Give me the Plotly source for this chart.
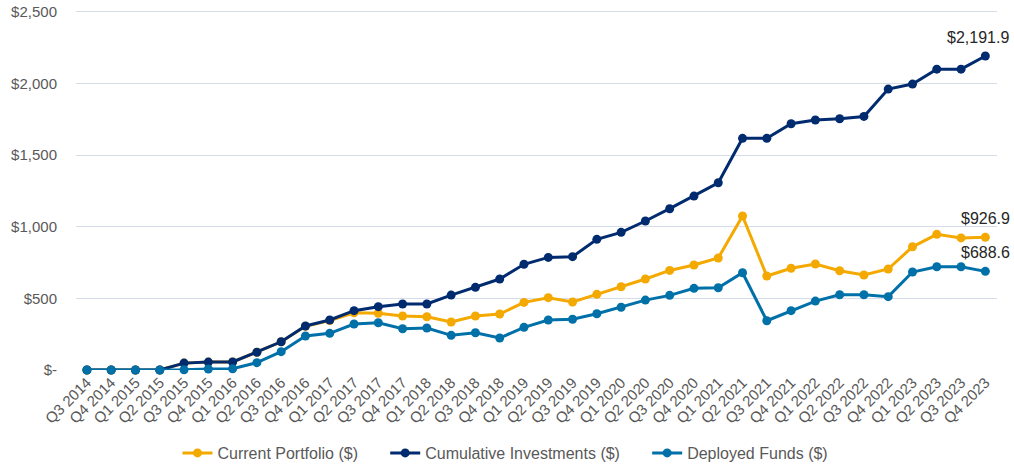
import plotly.graph_objects as go

quarters = ["Q3 2014", "Q4 2014", "Q1 2015", "Q2 2015", "Q3 2015", "Q4 2015", "Q1 2016", "Q2 2016",
            "Q3 2016", "Q4 2016", "Q1 2017", "Q2 2017", "Q3 2017", "Q4 2017", "Q1 2018", "Q2 2018",
            "Q3 2018", "Q4 2018", "Q1 2019", "Q2 2019", "Q3 2019", "Q4 2019", "Q1 2020", "Q2 2020",
            "Q3 2020", "Q4 2020", "Q1 2021", "Q2 2021", "Q3 2021", "Q4 2021", "Q1 2022", "Q2 2022",
            "Q3 2022", "Q4 2022", "Q1 2023", "Q2 2023", "Q3 2023", "Q4 2023"]

current_portfolio = [0, 0, 0, 0, 48, 55, 56, 124, 197, 305, 345, 400, 396, 377, 372, 335, 377, 391,
                     472, 505, 475, 528, 581, 635, 695, 733, 782, 1075, 656, 710, 740, 693, 663, 705,
                     860, 947, 922, 926.9]
cumulative_investments = [0, 0, 0, 0, 48, 55, 56, 124, 197, 307, 349, 414, 442, 461, 461, 523, 577, 635,
                          738, 786, 791, 912, 961, 1040, 1126, 1214, 1307, 1617, 1617, 1719, 1745, 1754,
                          1770, 1961, 1996, 2100, 2100, 2191.9]
deployed_funds = [0, 0, 0, 0, 2, 7, 9, 51, 128, 237, 256, 321, 330, 288, 293, 242, 260, 223,
                  298, 349, 354, 393, 438, 488, 521, 570, 574, 679, 344, 414, 481, 525, 525, 512,
                  684, 721, 721, 688.6]

series_names = ["Current Portfolio ($)", "Cumulative Investments ($)", "Deployed Funds ($)"]
series_colors = ["#F4A900", "#002B6F", "#0070A8"]

y_tick_vals = [0, 500, 1000, 1500, 2000, 2500]
y_tick_text = ["$-", "$500", "$1,000", "$1,500", "$2,000", "$2,500"]

FONT = "Arial, 'Liberation Sans', sans-serif"
NBSP_PAD = "\u00a0" * 5  # extra spacing between legend entries

fig = go.Figure()
all_series = [current_portfolio, cumulative_investments, deployed_funds]
for i, (name, vals, col) in enumerate(zip(series_names, all_series, series_colors)):
    fig.add_trace(go.Scatter(
        x=quarters, y=vals, name=name + (NBSP_PAD if i < len(series_names) - 1 else ""),
        mode="lines+markers",
        line=dict(color=col, width=3), marker=dict(color=col, size=9),
        cliponaxis=False,
    ))

label_shift = [0, -7, 0]
for vals, dx in zip(all_series, label_shift):
    v = vals[-1]
    fig.add_annotation(
        x=quarters[-1], y=v, text="${:,.1f}".format(v), showarrow=False,
        yanchor="bottom", yshift=8, xshift=dx,
        font=dict(family=FONT, size=16, color="#262626"),
    )

fig.update_layout(
    width=1014, height=474,
    margin=dict(l=76, r=17, t=9, b=104),
    paper_bgcolor="white", plot_bgcolor="white",
    font=dict(family=FONT, color="#595959"),
    showlegend=True,
    legend=dict(orientation="h", xref="container", x=0.4985, xanchor="center",
                yref="container", y=0.0443, yanchor="middle",
                font=dict(family=FONT, size=16, color="#595959"),
                itemwidth=30, tracegroupgap=0),
    xaxis=dict(type="category", range=[-0.45, 37.48], tickangle=-45, automargin=False,
               tickfont=dict(family=FONT, size=15, color="#595959"),
               showgrid=False, showline=False, zeroline=False, ticks=""),
    yaxis=dict(range=[0, 2520], tickvals=y_tick_vals, ticktext=y_tick_text, automargin=False,
               tickfont=dict(family=FONT, size=15, color="#595959"),
               showgrid=True, gridcolor="#D6DDEA", gridwidth=1, ticklabeloverflow="allow",
               zeroline=False, showline=False, ticks="", ticklabelstandoff=18),
)

fig.write_html("out.html", config={"displayModeBar": False},
               post_script="document.body.style.margin='0';")
